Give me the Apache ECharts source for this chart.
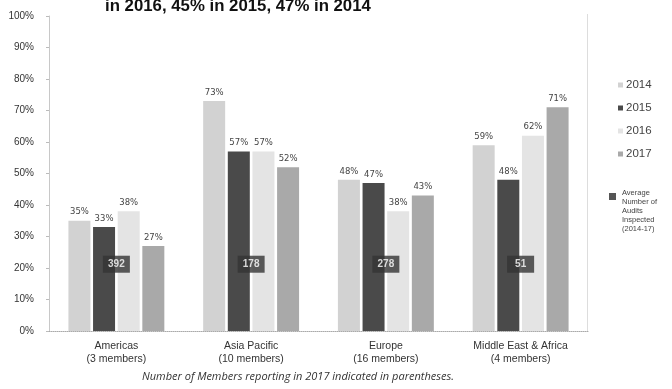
<!DOCTYPE html>
<html>
<head>
<meta charset="utf-8">
<script src="https://cdn.jsdelivr.net/npm/echarts@6/dist/echarts.min.js"></script>
<style>
  html, body { margin: 0; padding: 0; background: #fff; }
  #chart { width: 672px; height: 389px; }
</style>
</head>
<body>
<div id="chart"></div>
<script>
// Regions and their 2017 membership counts
const regions = ['Americas', 'Asia Pacific', 'Europe', 'Middle East & Africa'];
const members = [3, 10, 16, 4];

// Share of inspected audits with findings, by year (%)
const years = ['2014', '2015', '2016', '2017'];
const pct2014 = [35, 73, 48, 59];
const pct2015 = [33, 57, 47, 48];
const pct2016 = [38, 57, 38, 62];
const pct2017 = [27, 52, 43, 71];

// Average number of audits inspected per region, 2014-17
const avgAudits = [392, 178, 278, 51];

// Y axis ticks
const yMin = 0, yMax = 100, yStep = 10;

const yearColors = ['#d2d2d2', '#4a4a4a', '#e4e4e4', '#a9a9a9'];
const boxColor = '#333333';
const boxLevel = 21.2; // height (in % units) at which the audit-count badges sit

const chart = echarts.init(document.getElementById('chart'), null, { renderer: 'canvas' });

const yearData = [pct2014, pct2015, pct2016, pct2017];
const barSeries = years.map((y, i) => ({
  name: y,
  type: 'bar',
  data: yearData[i],
  barWidth: 22,
  barGap: '12%',
  itemStyle: { color: yearColors[i] },
  label: {
    show: true,
    position: 'top',
    distance: 4,
    formatter: p => p.value + '%',
    fontFamily: 'DejaVu Sans',
    fontSize: 8.5,
    color: '#444'
  },
  z: 2
}));

const badgeSeries = {
  name: 'audits',
  type: 'scatter',
  data: avgAudits.map((v, i) => ({ value: [regions[i], boxLevel], audits: v })),
  symbol: 'rect',
  symbolSize: [27, 17],
  itemStyle: { color: boxColor },
  label: {
    show: true,
    position: 'inside',
    formatter: p => String(p.data.audits),
    color: '#fff',
    fontFamily: 'Liberation Sans',
    fontWeight: 'bold',
    fontSize: 10
  },
  silent: true,
  z: 5
};

chart.setOption({
  animation: false,
  backgroundColor: '#fff',
  grid: { left: 49, right: 84, top: 16, bottom: 58, containLabel: false },
  legend: {
    data: years,
    orient: 'vertical',
    left: 613,
    top: 74,
    itemWidth: 5,
    itemHeight: 5,
    itemGap: 11,
    icon: 'rect',
    textStyle: { fontFamily: 'Liberation Sans', fontSize: 11.5, color: '#444', padding: [0, 0, 0, -2] }
  },
  xAxis: {
    type: 'category',
    data: regions,
    axisTick: { show: false },
    axisLine: { lineStyle: { color: '#aaa', type: 'dotted', width: 1 } },
    axisLabel: {
      margin: 9,
      interval: 0,
      formatter: (v, i) => v + '\n(' + members[i] + ' members)',
      fontFamily: 'Liberation Sans',
      fontSize: 10.5,
      lineHeight: 13,
      color: '#333'
    }
  },
  yAxis: {
    type: 'value',
    min: yMin,
    max: yMax,
    interval: yStep,
    axisLine: { show: true, lineStyle: { color: '#c8c8c8' } },
    axisTick: { show: true, length: 3, lineStyle: { color: '#bbb' } },
    splitLine: { show: false },
    axisLabel: {
      formatter: '{value}%',
      fontFamily: 'Liberation Sans',
      fontSize: 10,
      color: '#333',
      margin: 15
    }
  },
  series: [...barSeries, badgeSeries],
  graphic: [
    {
      type: 'text',
      x: 105,
      y: -2,
      style: {
        text: 'in 2016, 45% in 2015, 47% in 2014',
        fontFamily: 'Liberation Sans',
        fontWeight: 'bold',
        fontSize: 16.8,
        fill: '#111'
      }
    },
    {
      type: 'line',
      shape: { x1: 587.5, y1: 14, x2: 587.5, y2: 331 },
      style: { stroke: '#ddd', lineWidth: 1 }
    },
    {
      type: 'rect',
      shape: { x: 609, y: 193, width: 7, height: 7 },
      style: { fill: '#555' }
    },
    {
      type: 'text',
      x: 622,
      y: 188,
      style: {
        text: 'Average\nNumber of\nAudits\nInspected\n(2014-17)',
        fontFamily: 'Liberation Sans',
        fontSize: 7.5,
        lineHeight: 9,
        fill: '#444'
      }
    },
    {
      type: 'text',
      x: 142,
      y: 371,
      style: {
        text: 'Number of Members reporting in 2017 indicated in parentheses.',
        fontFamily: 'Open Sans',
        fontStyle: 'italic',
        fontSize: 11,
        fill: '#333'
      }
    }
  ]
});
</script>
</body>
</html>
